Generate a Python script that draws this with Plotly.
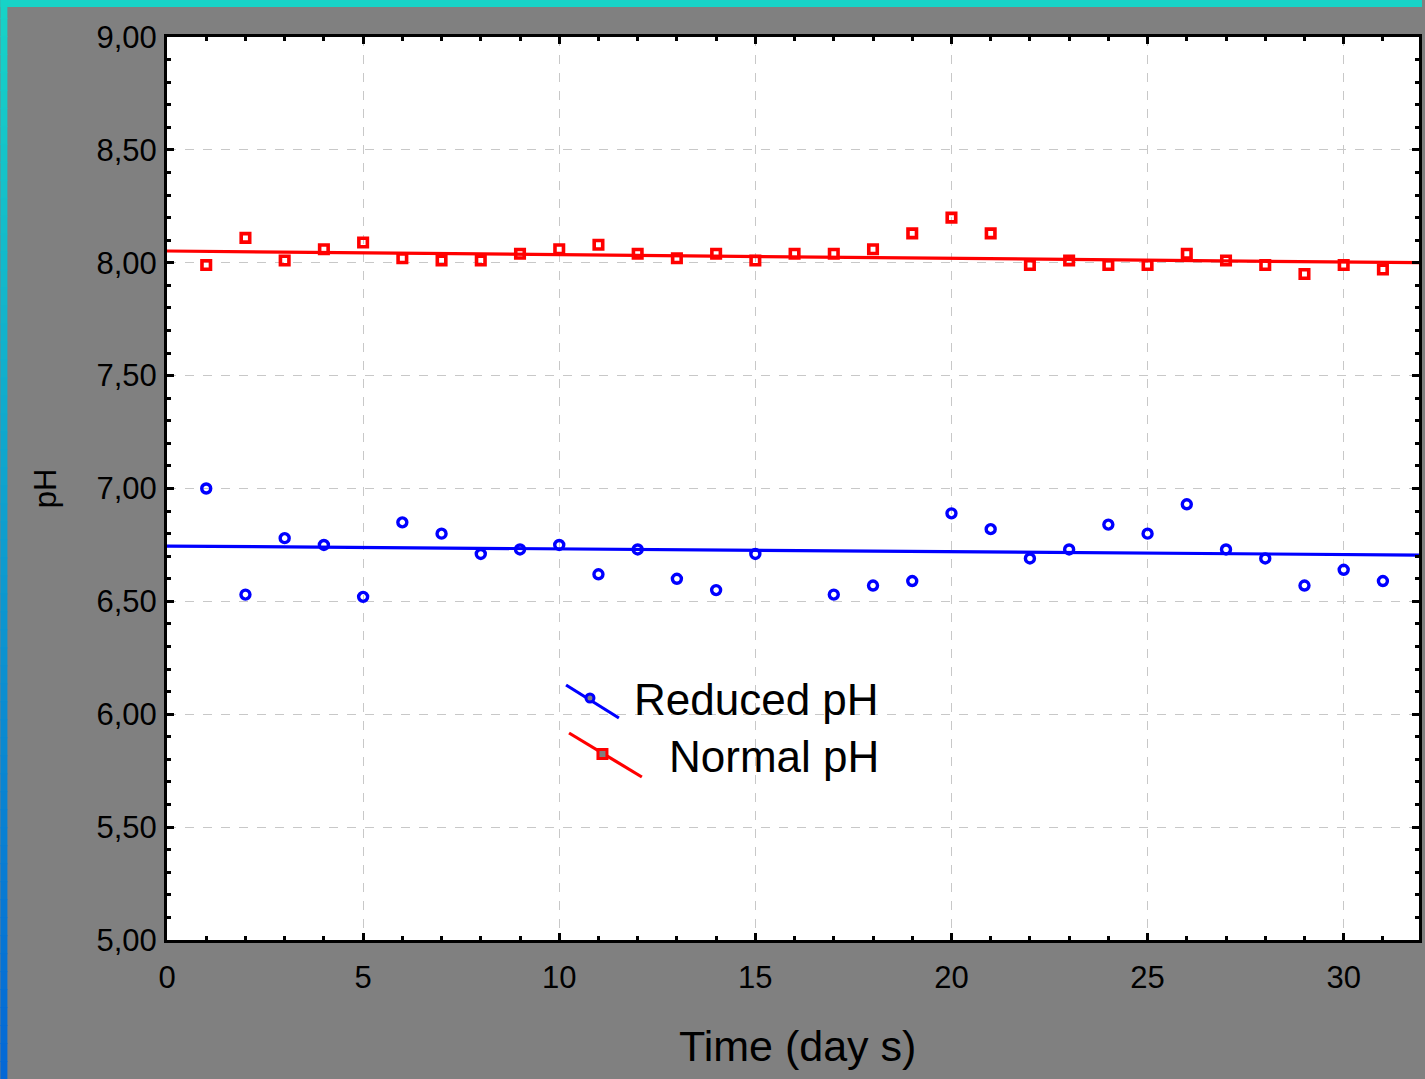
import plotly.graph_objects as go

# ---------------- data ----------------
days = list(range(1, 32))
normal_ph = [7.99, 8.11, 8.01, 8.06, 8.09, 8.02, 8.01, 8.01, 8.04, 8.06,
             8.08, 8.04, 8.02, 8.04, 8.01, 8.04, 8.04, 8.06, 8.13, 8.20,
             8.13, 7.99, 8.01, 7.99, 7.99, 8.04, 8.01, 7.99, 7.95, 7.99, 7.97]
reduced_ph = [7.00, 6.53, 6.78, 6.75, 6.52, 6.85, 6.80, 6.71, 6.73, 6.75,
              6.62, 6.73, 6.60, 6.55, 6.71, None, 6.53, 6.57, 6.59, 6.89,
              6.82, 6.69, 6.73, 6.84, 6.80, 6.93, 6.73, 6.69, 6.57, 6.64, 6.59]
fit_days = [0, 32]
normal_fit = [8.052, 8.000]
reduced_fit = [6.745, 6.705]
series_names = ["Reduced pH", "Normal pH"]
x_ticks = [0, 5, 10, 15, 20, 25, 30]
y_ticks = [5.0, 5.5, 6.0, 6.5, 7.0, 7.5, 8.0, 8.5, 9.0]

RED = "#FF0000"
BLUE = "#0000FF"
GREY = "#808080"
FONT = "Liberation Sans, Arial, sans-serif"

W, H = 1425, 1079
ML, MR, MT, MB = 167, 3, 37, 139
PW, PH = W - ML - MR, H - MT - MB


def X(px):
    return (px - ML) / PW


def Y(py):
    return (H - MB - py) / PH


fig = go.Figure()

# fitted lines
fig.add_trace(go.Scatter(x=fit_days, y=normal_fit, mode="lines",
                         line=dict(color=RED, width=3.2), showlegend=False,
                         hoverinfo="skip"))
fig.add_trace(go.Scatter(x=fit_days, y=reduced_fit, mode="lines",
                         line=dict(color=BLUE, width=3.2), showlegend=False,
                         hoverinfo="skip"))
# points
fig.add_trace(go.Scatter(x=days, y=normal_ph, mode="markers", name=series_names[1],
                         marker=dict(symbol="square-open", size=8.5, color=RED,
                                     line=dict(color=RED, width=3.6)),
                         showlegend=False))
fig.add_trace(go.Scatter(x=days, y=reduced_ph, mode="markers", name=series_names[0],
                         marker=dict(symbol="circle-open", size=9, color=BLUE,
                                     line=dict(color=BLUE, width=3.4)),
                         showlegend=False))

shapes = []
# decorative border strips (cyan top, cyan->blue gradient on the left)
shapes.append(dict(type="rect", xref="paper", yref="paper",
                   x0=X(0), x1=X(W), y0=Y(7), y1=Y(0),
                   fillcolor="rgb(23,211,199)", line=dict(width=0)))
n = 60
c0 = (23, 211, 199)
c1 = (4, 104, 214)
for i in range(n):
    t = i / (n - 1)
    col = tuple(round(c0[k] + (c1[k] - c0[k]) * t) for k in range(3))
    shapes.append(dict(type="rect", xref="paper", yref="paper",
                       x0=X(0), x1=X(7), y0=Y(H * (i + 1) / n + 1), y1=Y(H * i / n),
                       fillcolor="rgb(%d,%d,%d)" % col, line=dict(width=0)))

# custom legend (STATISTICA style diagonal symbols)
shapes.append(dict(type="line", xref="paper", yref="paper",
                   x0=X(567), y0=Y(685), x1=X(620), y1=Y(718),
                   line=dict(color=BLUE, width=3.2)))
shapes.append(dict(type="circle", xref="paper", yref="paper",
                   x0=X(587), x1=X(595), y0=Y(702), y1=Y(694),
                   fillcolor=GREY, line=dict(color=BLUE, width=3)))
shapes.append(dict(type="line", xref="paper", yref="paper",
                   x0=X(570), y0=Y(733), x1=X(643), y1=Y(777),
                   line=dict(color=RED, width=3.2)))
shapes.append(dict(type="rect", xref="paper", yref="paper",
                   x0=X(599), x1=X(608), y0=Y(758.5), y1=Y(749.5),
                   fillcolor=GREY, line=dict(color=RED, width=3)))

annotations = [
    dict(text=series_names[0], xref="paper", yref="paper", x=X(883), y=Y(699),
         xanchor="right", yanchor="middle", showarrow=False,
         font=dict(family=FONT, size=44, color="black")),
    dict(text=series_names[1], xref="paper", yref="paper", x=X(883), y=Y(756),
         xanchor="right", yanchor="middle", showarrow=False,
         font=dict(family=FONT, size=44, color="black")),
    # x-axis title (placed as annotation to match the reference's horizontal offset)
    dict(text="Time (day s)", xref="paper", yref="paper", x=X(799), y=Y(1046),
         xanchor="center", yanchor="middle", showarrow=False,
         font=dict(family=FONT, size=43, color="black")),
]

axis_common = dict(
    showline=True, linecolor="black", linewidth=3, mirror="allticks",
    ticks="inside", ticklen=7, tickwidth=3, tickcolor="black",
    showgrid=True, gridcolor="#c8c8c8", gridwidth=1, griddash="dash",
    zeroline=False,
    tickfont=dict(family=FONT, size=31, color="black"),
)

fig.update_xaxes(
    range=[0, 31.92], tickvals=x_ticks, ticktext=[str(v) for v in x_ticks],
    minor=dict(dtick=1, tick0=0, ticks="inside", ticklen=4, tickwidth=2.5,
               tickcolor="black", showgrid=False),
    ticklabelstandoff=8,
    **axis_common,
)
fig.update_yaxes(
    range=[5, 9], tickvals=y_ticks, tickformat=".2f",
    minor=dict(dtick=0.1, tick0=5, ticks="inside", ticklen=4, tickwidth=2.5,
               tickcolor="black", showgrid=False),
    title=dict(text="pH", font=dict(family=FONT, size=31, color="black"),
               standoff=31),
    ticklabelstandoff=1,
    **axis_common,
)

fig.update_layout(
    width=W, height=H, autosize=False,
    margin=dict(l=ML, r=MR, t=MT, b=MB, pad=0),
    paper_bgcolor=GREY, plot_bgcolor="white",
    separators=",.",
    showlegend=False,
    shapes=shapes, annotations=annotations,
    font=dict(family=FONT, color="black"),
)

fig.write_html("out.html", config={"displayModeBar": False},
               post_script="document.body.style.margin='0';document.body.style.overflow='hidden';")
